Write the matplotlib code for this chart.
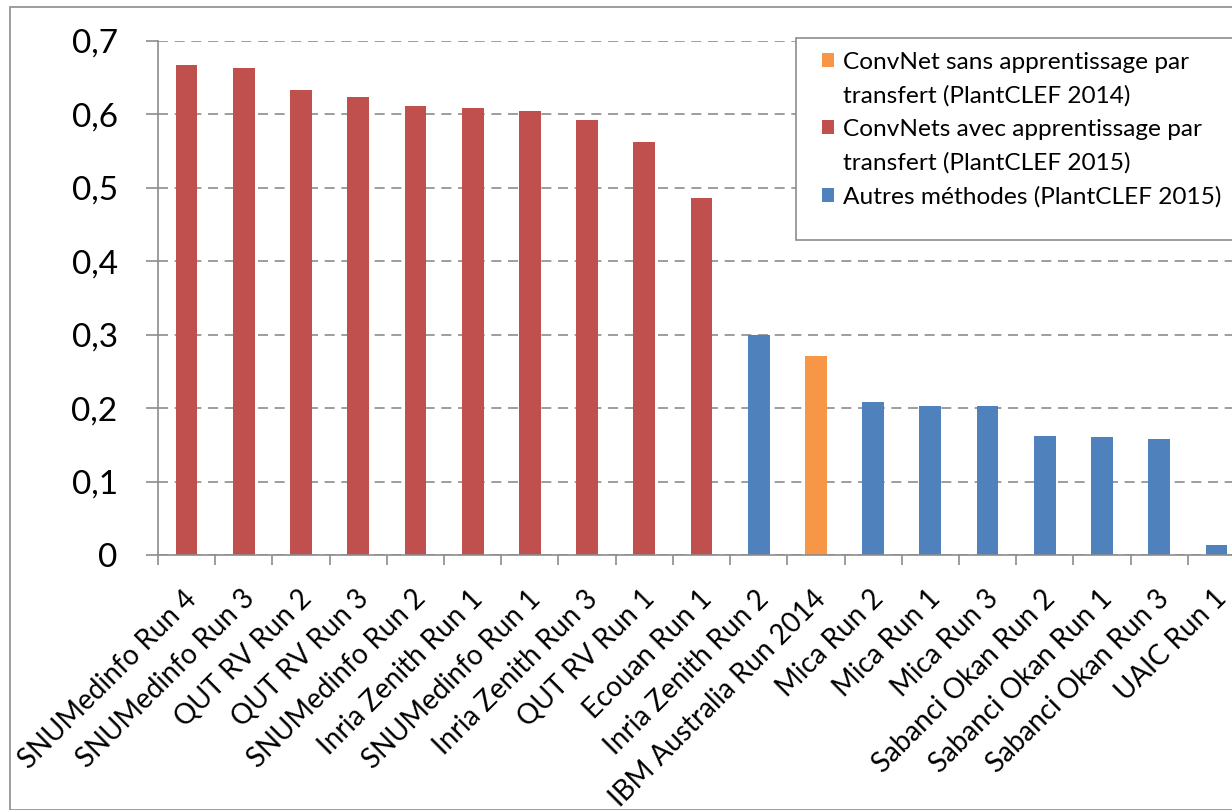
import matplotlib
matplotlib.use("Agg")
import matplotlib.pyplot as plt
import matplotlib.transforms as mtransforms
from matplotlib.patches import Rectangle, Patch
from matplotlib.ticker import FixedLocator

plt.rcParams['font.family'] = ['Lato', 'DejaVu Sans']

categories = ["SNUMedinfo Run 4", "SNUMedinfo Run 3", "QUT RV Run 2", "QUT RV Run 3",
              "SNUMedinfo Run 2", "Inria Zenith Run 1", "SNUMedinfo Run 1", "Inria Zenith Run 3",
              "QUT RV Run 1", "Ecouan Run 1", "Inria Zenith Run 2", "IBM Australia Run 2014",
              "Mica Run 2", "Mica Run 1", "Mica Run 3", "Sabanci Okan Run 2",
              "Sabanci Okan Run 1", "Sabanci Okan Run 3", "UAIC Run 1"]
values = [0.667, 0.663, 0.633, 0.624, 0.612, 0.609, 0.605, 0.593, 0.563, 0.486,
          0.300, 0.271, 0.208, 0.203, 0.203, 0.162, 0.161, 0.158, 0.014]
groups = ["transfer"] * 10 + ["other", "notransfer"] + ["other"] * 7

group_colors = {"notransfer": "#F79646", "transfer": "#C0504D", "other": "#4F81BD"}
legend_labels = {"notransfer": "ConvNet sans apprentissage par\ntransfert (PlantCLEF 2014)",
                 "transfer": "ConvNets avec apprentissage par\ntransfert (PlantCLEF 2015)",
                 "other": "Autres méthodes (PlantCLEF 2015)"}
yticks = [0, 0.1, 0.2, 0.3, 0.4, 0.5, 0.6, 0.7]
ytick_labels = ["0", "0,1", "0,2", "0,3", "0,4", "0,5", "0,6", "0,7"]

W, H = 1232, 810
fig = plt.figure(figsize=(W / 100, H / 100), dpi=100)

# outer border
fig.patches.append(Rectangle((10 / W, 0), 1.2, 1 - 7 / H, transform=fig.transFigure,
                             fill=False, edgecolor="#8c8c8c", linewidth=1.2))

left_px, right_px, top_px, bot_px = 158, 1245, 41, 555
ax = fig.add_axes([left_px / W, 1 - bot_px / H, (right_px - left_px) / W, (bot_px - top_px) / H])

x = list(range(len(categories)))
ax.bar(x, values, width=0.38, color=[group_colors[g] for g in groups], zorder=3)

ax.set_xlim(-0.5, len(categories) - 0.5)
ax.set_ylim(0, 0.7)

ax.set_yticks(yticks)
ax.set_yticklabels(ytick_labels, fontsize=24)
ax.tick_params(axis='y', length=9, width=1.2, color="#8c8c8c", pad=20)

ax.set_xticks(x)
ax.set_xticklabels(categories, rotation=45, ha='right', rotation_mode='anchor', fontsize=20)
ax.tick_params(axis='x', which='major', length=0, pad=22)
ax.xaxis.set_minor_locator(FixedLocator([i - 0.5 for i in range(len(categories) + 1)]))
ax.tick_params(axis='x', which='minor', length=7, width=1.2, color="#8c8c8c")
offset = mtransforms.ScaledTranslation(-3 / 100, 0, fig.dpi_scale_trans)
for lbl in ax.get_xticklabels():
    lbl.set_transform(lbl.get_transform() + offset)

ax.grid(axis='y', color="#8c8c8c", linestyle=(0, (6, 4)), linewidth=1.2, zorder=0)
for s in ["top", "right"]:
    ax.spines[s].set_visible(False)
for s in ["left", "bottom"]:
    ax.spines[s].set_color("#8c8c8c")
    ax.spines[s].set_linewidth(1.2)
    ax.spines[s].set_zorder(4)

# legend: one row per text line, square only on the first line of each entry
fig.patches.append(Rectangle((796 / W, 1 - 240 / H), 1.0, (240 - 38) / H, transform=fig.transFigure,
                             facecolor="white", edgecolor="#8c8c8c", linewidth=1.2, zorder=5))
order = ["notransfer", "transfer", "other"]
handles, texts = [], []
for g in order:
    for i, line in enumerate(legend_labels[g].split("\n")):
        if i == 0:
            handles.append(Patch(facecolor=group_colors[g]))
        else:
            handles.append(Patch(facecolor="none", edgecolor="none"))
        texts.append(line)
leg = fig.legend(handles, texts, loc='upper left',
                 bbox_to_anchor=(800 / W, 1 - 30 / H), frameon=False, fontsize=17.6,
                 handlelength=0.5, handleheight=0.5, handletextpad=0.35,
                 labelspacing=0.5)
leg.set_zorder(6)

fig.savefig("out.png", dpi=100)
